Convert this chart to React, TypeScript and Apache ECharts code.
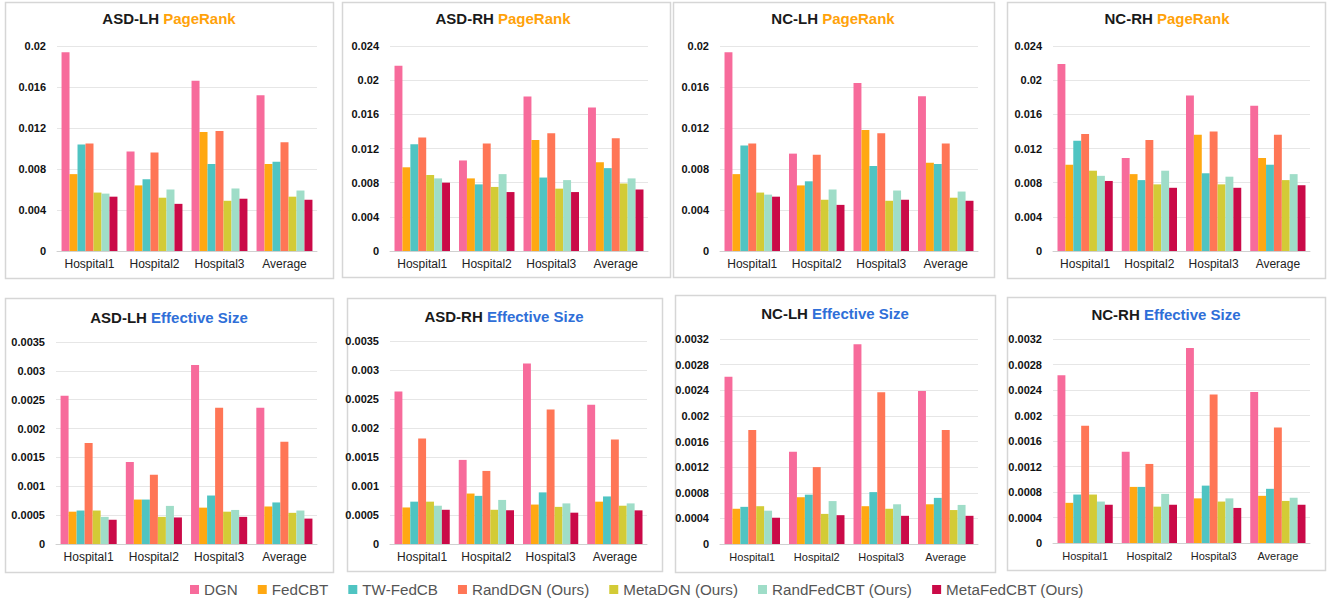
import React, { useEffect, useRef } from "react";
import * as echarts from "echarts";

const categories = ["Hospital1", "Hospital2", "Hospital3", "Average"];
const methods = [
  "DGN",
  "FedCBT",
  "TW-FedCB",
  "RandDGN (Ours)",
  "MetaDGN (Ours)",
  "RandFedCBT (Ours)",
  "MetaFedCBT (Ours)",
];
const methodColors = ["#F76B9B", "#FFA812", "#4FC4C2", "#FF7656", "#D3CB36", "#9FDDC8", "#CA0A48"];

// rows follow methods order, columns follow categories
const asdLhPageRank = [
  [0.0194, 0.0097, 0.0166, 0.0152],
  [0.0075, 0.0064, 0.0116, 0.0085],
  [0.0104, 0.007, 0.0085, 0.0087],
  [0.0105, 0.0096, 0.0117, 0.0106],
  [0.0057, 0.0052, 0.0049, 0.0053],
  [0.0056, 0.006, 0.0061, 0.0059],
  [0.0053, 0.0046, 0.0051, 0.005],
];
const asdRhPageRank = [
  [0.0217, 0.0106, 0.0181, 0.0168],
  [0.0098, 0.0085, 0.013, 0.0104],
  [0.0125, 0.0078, 0.0086, 0.0097],
  [0.0133, 0.0126, 0.0138, 0.0132],
  [0.0089, 0.0075, 0.0073, 0.0079],
  [0.0085, 0.009, 0.0083, 0.0085],
  [0.008, 0.0069, 0.0069, 0.0072],
];
const ncLhPageRank = [
  [0.0194, 0.0095, 0.0164, 0.0151],
  [0.0075, 0.0064, 0.0118, 0.0086],
  [0.0103, 0.0068, 0.0083, 0.0085],
  [0.0105, 0.0094, 0.0115, 0.0105],
  [0.0057, 0.005, 0.0049, 0.0052],
  [0.0055, 0.006, 0.0059, 0.0058],
  [0.0053, 0.0045, 0.005, 0.0049],
];
const ncRhPageRank = [
  [0.0219, 0.0109, 0.0182, 0.017],
  [0.0101, 0.009, 0.0136, 0.0109],
  [0.0129, 0.0083, 0.0091, 0.0101],
  [0.0137, 0.013, 0.014, 0.0136],
  [0.0094, 0.0078, 0.0078, 0.0083],
  [0.0088, 0.0094, 0.0087, 0.009],
  [0.0082, 0.0074, 0.0074, 0.0077],
];
const asdLhEffectiveSize = [
  [0.00257, 0.00142, 0.0031, 0.00236],
  [0.00056, 0.00077, 0.00063, 0.00065],
  [0.00058, 0.00077, 0.00084, 0.00072],
  [0.00175, 0.0012, 0.00236, 0.00177],
  [0.00058, 0.00047, 0.00056, 0.00054],
  [0.00047, 0.00066, 0.00059, 0.00058],
  [0.00042, 0.00046, 0.00047, 0.00044],
];
const asdRhEffectiveSize = [
  [0.00263, 0.00145, 0.00311, 0.0024],
  [0.00063, 0.00087, 0.00068, 0.00073],
  [0.00073, 0.00083, 0.00089, 0.00082],
  [0.00182, 0.00126, 0.00232, 0.0018],
  [0.00073, 0.00059, 0.00064, 0.00066],
  [0.00066, 0.00076, 0.0007, 0.0007],
  [0.00059, 0.00058, 0.00054, 0.00058],
];
const ncLhEffectiveSize = [
  [0.00261, 0.00144, 0.00312, 0.00239],
  [0.00055, 0.00073, 0.00059, 0.00062],
  [0.00058, 0.00077, 0.00081, 0.00072],
  [0.00178, 0.0012, 0.00237, 0.00178],
  [0.00059, 0.00047, 0.00055, 0.00053],
  [0.00052, 0.00067, 0.00062, 0.00061],
  [0.00041, 0.00045, 0.00044, 0.00044],
];
const ncRhEffectiveSize = [
  [0.00263, 0.00143, 0.00306, 0.00237],
  [0.00063, 0.00088, 0.0007, 0.00074],
  [0.00076, 0.00088, 0.0009, 0.00085],
  [0.00184, 0.00124, 0.00233, 0.00181],
  [0.00076, 0.00057, 0.00065, 0.00066],
  [0.00065, 0.00077, 0.0007, 0.00071],
  [0.0006, 0.0006, 0.00055, 0.0006],
];

const panelGroups = ["ASD-LH", "ASD-RH", "NC-LH", "NC-RH", "ASD-LH", "ASD-RH", "NC-LH", "NC-RH"];
const panelMetrics = ["PageRank", "PageRank", "PageRank", "PageRank", "Effective Size", "Effective Size", "Effective Size", "Effective Size"];
const panelData = [
  asdLhPageRank,
  asdRhPageRank,
  ncLhPageRank,
  ncRhPageRank,
  asdLhEffectiveSize,
  asdRhEffectiveSize,
  ncLhEffectiveSize,
  ncRhEffectiveSize,
];
const panelYMax = [0.02, 0.024, 0.02, 0.024, 0.0035, 0.0035, 0.0032, 0.0032];
const panelYStep = [0.004, 0.004, 0.004, 0.004, 0.0005, 0.0005, 0.0004, 0.0004];

// layout (pixels)
const gridBoxes = [
  { x0: 57, x1: 317, y0: 46, y1: 251 },
  { x0: 390, x1: 648, y0: 46, y1: 251 },
  { x0: 720, x1: 978, y0: 46, y1: 251 },
  { x0: 1053, x1: 1310, y0: 46, y1: 251 },
  { x0: 56, x1: 317, y0: 342, y1: 544 },
  { x0: 390, x1: 647, y0: 341, y1: 544 },
  { x0: 720, x1: 978, y0: 339, y1: 544 },
  { x0: 1053, x1: 1310, y0: 339, y1: 543 },
];
const borderBoxes = [
  { x0: 5, x1: 333, y0: 2, y1: 278 },
  { x0: 342, x1: 670, y0: 2, y1: 277 },
  { x0: 673, x1: 994, y0: 2, y1: 277 },
  { x0: 1007, x1: 1325, y0: 2, y1: 278 },
  { x0: 5, x1: 333, y0: 298, y1: 572 },
  { x0: 347, x1: 662, y0: 298, y1: 571 },
  { x0: 675, x1: 995, y0: 295, y1: 572 },
  { x0: 1007, x1: 1325, y0: 297, y1: 570 },
];
const titlePos = [
  { x: 169, y: 18 },
  { x: 503, y: 18 },
  { x: 833, y: 18 },
  { x: 1167, y: 18 },
  { x: 169, y: 317 },
  { x: 504, y: 316 },
  { x: 835, y: 313 },
  { x: 1166, y: 314 },
];
const xLabelSize = [12, 12, 12, 12, 12, 12, 11, 11];

const FONT = "'Liberation Sans', Arial, sans-serif";

export default function App() {
  const ref = useRef<HTMLDivElement>(null);
  useEffect(() => {
    if (!ref.current) return;
    const chart = echarts.init(ref.current, undefined, { renderer: "svg" });
    const grid: any[] = [];
    const xAxis: any[] = [];
    const yAxis: any[] = [];
    const series: any[] = [];
    const graphic: any[] = [];

    panelData.forEach((rows, p) => {
      const g = gridBoxes[p];
      grid.push({ left: g.x0, top: g.y0, width: g.x1 - g.x0, height: g.y1 - g.y0, containLabel: false });
      xAxis.push({
        type: "category",
        gridIndex: p,
        data: categories,
        axisTick: { show: false },
        axisLine: { lineStyle: { color: "#d0d0d0", width: 1 } },
        axisLabel: { interval: 0, color: "#222", fontSize: xLabelSize[p], margin: 7, fontFamily: FONT },
      });
      yAxis.push({
        type: "value",
        gridIndex: p,
        min: 0,
        max: panelYMax[p],
        interval: panelYStep[p],
        axisLine: { show: false },
        axisTick: { show: false },
        splitLine: { lineStyle: { color: "#e6e6e6", width: 1 } },
        axisLabel: { color: "#111", fontSize: 11, fontWeight: "bold", margin: 11, fontFamily: FONT },
      });
      rows.forEach((vals, m) => {
        series.push({
          type: "bar",
          name: methods[m],
          xAxisIndex: p,
          yAxisIndex: p,
          data: vals,
          barGap: "0%",
          barCategoryGap: "14%",
          itemStyle: { color: methodColors[m] },
        });
      });
      const b = borderBoxes[p];
      graphic.push({
        type: "rect",
        shape: { x: b.x0 + 0.5, y: b.y0 + 0.5, width: b.x1 - b.x0, height: b.y1 - b.y0 },
        style: { fill: "none", stroke: "#d6d6d6", lineWidth: 1.5 },
        silent: true,
      });
      const t = titlePos[p];
      const metricColor = panelMetrics[p] === "PageRank" ? "#FFA20A" : "#2F6FD8";
      graphic.push({
        type: "text",
        x: t.x,
        y: t.y,
        silent: true,
        style: {
          text: "{a|" + panelGroups[p] + "} {b|" + panelMetrics[p] + "}",
          align: "center",
          verticalAlign: "middle",
          rich: {
            a: { fontSize: 15, fontWeight: "bold", fill: "#1a1a1a", fontFamily: FONT },
            b: { fontSize: 15, fontWeight: "bold", fill: metricColor, fontFamily: FONT },
          },
          fontSize: 15,
          fontWeight: "bold",
          fontFamily: FONT,
        },
      });
    });

    chart.setOption({
      animation: false,
      backgroundColor: "#ffffff",
      grid,
      xAxis,
      yAxis,
      series,
      graphic,
      legend: {
        data: methods,
        left: 185,
        top: 577,
        itemWidth: 9,
        itemHeight: 9,
        itemGap: 20,
        icon: "rect",
        textStyle: {
          color: "#555",
          fontSize: 15.2,
          fontFamily: FONT,
        },
      },
    });
    return () => chart.dispose();
  }, []);
  return (
    <div
      ref={ref}
      style={{ position: "fixed", left: 0, top: 0, width: 1333, height: 603, background: "#fff" }}
    />
  );
}
